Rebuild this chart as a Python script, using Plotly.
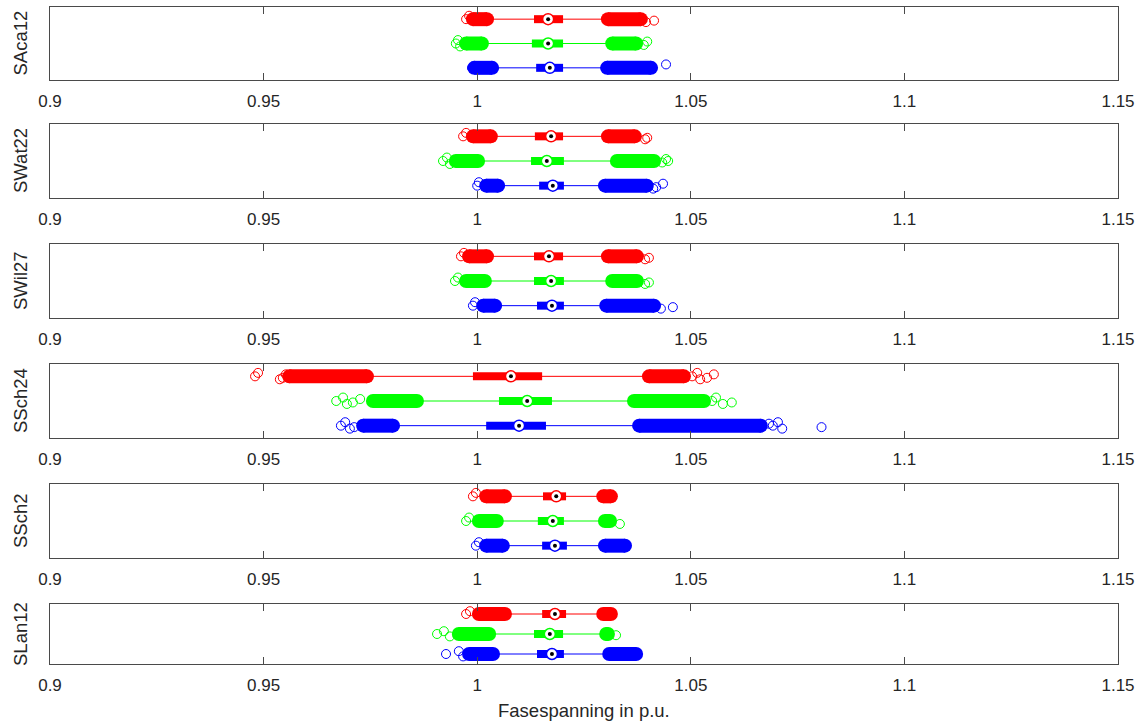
import plotly.graph_objects as go

# ---------------------------------------------------------------- data
stations = ["SAca12", "SWat22", "SWil27", "SSch24", "SSch2", "SLan12"]
phase_colors = ["#ff0000", "#00ff00", "#0000ff"]   # L1, L2, L3
tick_vals = [0.9, 0.95, 1.0, 1.05, 1.1, 1.15]
tick_text = ["0.9", "0.95", "1", "1.05", "1.1", "1.15"]
x_label = "Fasespanning in p.u."

# box statistics per station, per phase [L1, L2, L3]
q1 = [
    [1.0133, 1.0128, 1.0138],
    [1.0135, 1.0126, 1.0145],
    [1.0133, 1.0133, 1.0140],
    [0.9990, 1.0051, 1.0021],
    [1.0154, 1.0142, 1.0152],
    [1.0152, 1.0133, 1.0140],
]
median = [
    [1.0166, 1.0166, 1.0170],
    [1.0173, 1.0163, 1.0177],
    [1.0168, 1.0173, 1.0175],
    [1.0079, 1.0117, 1.0098],
    [1.0185, 1.0177, 1.0182],
    [1.0182, 1.0170, 1.0175],
]
q3 = [
    [1.0201, 1.0201, 1.0201],
    [1.0201, 1.0203, 1.0203],
    [1.0201, 1.0203, 1.0203],
    [1.0152, 1.0175, 1.0161],
    [1.0208, 1.0203, 1.0210],
    [1.0208, 1.0201, 1.0203],
]
whisker_lo = [
    [1.0039, 1.0025, 1.0049],
    [1.0046, 1.0016, 1.0063],
    [1.0037, 1.0032, 1.0056],
    [0.9756, 0.9873, 0.9817],
    [1.0079, 1.0060, 1.0074],
    [1.0079, 1.0042, 1.0051],
]
whisker_hi = [
    [1.0292, 1.0302, 1.0290],
    [1.0292, 1.0313, 1.0285],
    [1.0292, 1.0302, 1.0287],
    [1.0388, 1.0353, 1.0365],
    [1.0280, 1.0285, 1.0285],
    [1.0280, 1.0290, 1.0294],
]

# dense runs of outliers [first, last] below and above the whiskers
low_run = [
    [[0.9990, 1.0023], [0.9974, 1.0011], [0.9993, 1.0035]],
    [[0.9990, 1.0032], [0.9950, 1.0002], [1.0021, 1.0049]],
    [[0.9981, 1.0023], [0.9974, 1.0018], [1.0014, 1.0042]],
    [[0.9560, 0.9742], [0.9756, 0.9859], [0.9733, 0.9803]],
    [[1.0021, 1.0065], [1.0004, 1.0046], [1.0021, 1.0060]],
    [[1.0004, 1.0065], [0.9957, 1.0028], [0.9981, 1.0037]],
]
high_run = [
    [[1.0306, 1.0383], [1.0316, 1.0372], [1.0304, 1.0407]],
    [[1.0306, 1.0369], [1.0327, 1.0414], [1.0299, 1.0397]],
    [[1.0306, 1.0374], [1.0316, 1.0374], [1.0302, 1.0414]],
    [[1.0402, 1.0484], [1.0367, 1.0531], [1.0379, 1.0664]],
    [[1.0295, 1.0313], [1.0299, 1.0311], [1.0299, 1.0346]],
    [[1.0295, 1.0313], [1.0302, 1.0306], [1.0309, 1.0372]],
]

# isolated outliers
low_outliers = [
    [[0.9974, 0.9981], [0.9950, 0.9955, 0.9960], [0.9988]],
    [[0.9967, 0.9974], [0.9920, 0.9929, 0.9936], [1.0000, 1.0004]],
    [[0.9962, 0.9969], [0.9948, 0.9955], [0.9990, 0.9995]],
    [[0.9480, 0.9487, 0.9538, 0.9545, 0.9552], [0.9670, 0.9686, 0.9695, 0.9709, 0.9726],
     [0.9681, 0.9691, 0.9702, 0.9712]],
    [[0.9990, 0.9997], [0.9974, 0.9981], [0.9997, 1.0004]],
    [[0.9974, 0.9983], [0.9906, 0.9922, 0.9936], [0.9927, 0.9957, 0.9967]],
]
high_outliers = [
    [[1.0395, 1.0414], [1.0390, 1.0398], [1.0442]],
    [[1.0393, 1.0398], [1.0433, 1.0442, 1.0447], [1.0412, 1.0419, 1.0435]],
    [[1.0393, 1.0402], [1.0393, 1.0402], [1.0430, 1.0458]],
    [[1.0503, 1.0515, 1.0522, 1.0538, 1.0554],
     [1.0550, 1.0559, 1.0575, 1.0596],
     [1.0683, 1.0692, 1.0704, 1.0714, 1.0806]],
    [[], [1.0334], []],
    [[], [1.0325], []],
]

# ---------------------------------------------------------------- style
TEXT = "#262626"
AXIS = "#4a4a4a"
FONT = "Liberation Sans, Arial, sans-serif"
jitter = [0.0, -0.14, 0.12, 0.06, -0.08]      # vertical spread of outlier circles

W, H = 1143, 724
M_L, M_R, M_T, M_B = 50, 25, 7, 60
panel_top = [7, 124, 244, 364, 484, 604]
panel_bottom = [80, 198, 318, 438, 558, 664]
plot_h = H - M_T - M_B

fig = go.Figure()


def suffix(k):
    return "" if k == 1 else str(k)


def add(trace, k):
    trace.update(xaxis="x" + suffix(k), yaxis="y" + suffix(k),
                 showlegend=False, hoverinfo="skip")
    fig.add_trace(trace)


for s in range(len(stations)):
    k = s + 1
    for p, col in enumerate(phase_colors):
        y = p + 1
        # whisker
        add(go.Scatter(x=[whisker_lo[s][p], whisker_hi[s][p]], y=[y, y], mode="lines",
                       line=dict(color=col, width=1)), k)
        # box
        add(go.Scatter(x=[q1[s][p], q3[s][p]], y=[y, y], mode="lines",
                       line=dict(color=col, width=8)), k)
        # dense outlier runs
        for run in (low_run[s][p], high_run[s][p]):
            add(go.Scatter(x=run, y=[y, y], mode="lines+markers",
                           line=dict(color=col, width=14),
                           marker=dict(symbol="circle", size=14, color=col,
                                       line=dict(width=0))), k)
        # isolated outliers
        outs = low_outliers[s][p] + high_outliers[s][p]
        if outs:
            ys = [y + jitter[i % len(jitter)] for i in range(len(outs))]
            add(go.Scatter(x=outs, y=ys, mode="markers",
                           marker=dict(symbol="circle-open", size=9, color=col,
                                       line=dict(width=1, color=col))), k)
        # median: white circle with black dot
        add(go.Scatter(x=[median[s][p]], y=[y], mode="markers",
                       marker=dict(symbol="circle", size=11, color="white",
                                   line=dict(width=1.5, color=col))), k)
        add(go.Scatter(x=[median[s][p]], y=[y], mode="markers",
                       marker=dict(symbol="circle", size=4, color="black",
                                   line=dict(width=0))), k)

layout = dict(
    width=W, height=H,
    margin=dict(l=M_L, r=M_R, t=M_T, b=M_B),
    paper_bgcolor="white", plot_bgcolor="white",
    font=dict(family=FONT, color=TEXT, size=17),
    annotations=[],
)

for s, name in enumerate(stations):
    k = s + 1
    sx = suffix(k)
    dom = [(H - M_B - panel_bottom[s]) / plot_h, (H - M_B - panel_top[s]) / plot_h]
    layout["xaxis" + sx] = dict(
        domain=[0, 1], range=[0.9, 1.15], anchor="y" + sx,
        tickmode="array", tickvals=tick_vals, ticktext=tick_text,
        ticks="inside", ticklen=7, tickwidth=1, tickcolor=AXIS,
        showline=True, linecolor=AXIS, linewidth=1, mirror="ticks",
        showgrid=False, zeroline=False,
        tickfont=dict(family=FONT, size=17, color=TEXT),
        ticklabelstandoff=6,
    )
    layout["yaxis" + sx] = dict(
        domain=dom, range=[3.5, 0.5], anchor="x" + sx,
        showticklabels=False, ticks="",
        showline=True, linecolor=AXIS, linewidth=1, mirror=True,
        showgrid=False, zeroline=False,
    )
    layout["annotations"].append(dict(
        text=name, xref="paper", yref="y" + sx + " domain", x=0, y=0.5,
        xshift=-30, xanchor="center", yanchor="middle", textangle=-90,
        showarrow=False, font=dict(family=FONT, size=18.5, color=TEXT),
    ))

layout["annotations"].append(dict(
    text=x_label, xref="paper", yref="paper", x=0.5, y=0, yshift=-46,
    xanchor="center", yanchor="middle", showarrow=False,
    font=dict(family=FONT, size=18.5, color=TEXT),
))

fig.update_layout(**layout)
fig.write_html("out.html")
